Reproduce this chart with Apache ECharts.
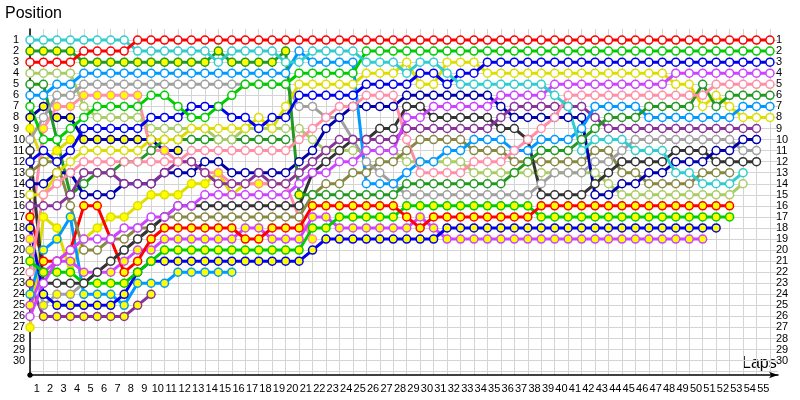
<!DOCTYPE html>
<html>
<head>
<meta charset="utf-8">
<script src="https://cdn.jsdelivr.net/npm/echarts@6/dist/echarts.min.js"></script>
<style>
  html, body { margin: 0; background: #fff; }
  #chart { width: 800px; height: 400px; }
</style>
</head>
<body>
<div id="chart"></div>
<script>
// Lap labels on the x axis (column 0 = starting grid)
const lapLabels = ['1','2','3','4','5','6','7','8','9','10','11','12','13','14','15','16','17','18','19','20',
  '21','22','23','24','25','26','27','28','29','30','31','32','33','34','35','36','37','38','39','40',
  '41','42','43','44','45','46','47','48','49','50','51','52','53','54','55'];

// Position per lap, lap 0..55 (null = out of the race)
const redOpen = [3,3,3,3,2,2,2,2,1,1, 1,1,1,1,1,1,1,1,1,1, 1,1,1,1,1,1,1,1,1,1, 1,1,1,1,1,1,1,1,1,1, 1,1,1,1,1,1,1,1,1,1, 1,1,1,1,1,1];
const cyanOpen = [1,1,1,1,1,1,1,1,2,2, 2,2,2,2,3,2,2,2,2,3, 3,2,2,2,2,3,3,3,4,3, 3,4,5,5,5,5,5,5,5,6, 7,11,10,10,10,11,11,11,13,13, 14,14,14,13,null,null];
const dkGreenMain = [2,2,2,2,3,3,3,3,3,3, 3,3,3,3,2,3,3,3,3,2, 15,15,15,15,15,15,15,15,14,14, 14,14,14,14,14,14,13,12,11,11, 11,10,9,8,8,8,7,7,7,7, 5,7,6,6,6,6];
const greenOpen = [7,10,10,9,8,7,7,7,7,6, 6,7,8,8,7,6,5,5,5,5, 4,4,4,4,4,2,2,2,2,2, 2,2,2,2,2,2,2,2,2,2, 2,2,2,2,2,2,2,2,2,2, 2,2,2,2,2,2];
const blueOpen = [12,11,12,11,9,9,9,9,9,8, 8,8,7,7,7,8,8,9,8,8, 6,6,6,6,6,5,5,5,5,4, 4,5,4,4,3,3,3,3,3,3, 3,3,3,3,3,3,3,3,3,3, 3,3,3,3,3,3];
const violetOpen = [26,23,21,20,19,19,19,18,18,17, 17,16,16,15,15,15,15,15,15,15, 14,13,13,12,12,11,11,11,8,8, 7,7,7,7,7,6,6,6,6,5, 5,5,5,5,5,5,5,5,4,4, 4,4,4,4,4,4];
const pinkOpen = [22,15,14,13,12,12,12,12,12,12, 12,12,11,11,11,11,11,11,11,11, 10,9,8,7,7,6,6,6,10,13, 13,13,13,12,12,12,11,10,9,8, 6,6,6,6,6,6,6,6,6,6, 6,5,5,5,5,5];
const dkGreenOpen = [5,5,10,15,14,13,13,12,12,11, 10,10,10,10,10,10,10,10,10,10];
const skyOpen = [6,6,5,5,4,4,4,4,4,4, 4,4,4,4,4,4,4,4,4,4, 2,3,3,3,3,14,14,14,13,12, 12,11,11,10,10,10,11,11,10,10, 10,9,7,7,7,7,8,8,8,8, 8,8,8,7,7,7];
const yellowOpen = [15,15,13,12,11,11,11,11,11,10, 10,10,9,9,9,9,9,8,9,7, 5,5,5,5,5,4,4,4,3,5, 5,3,3,3,4,4,4,4,4,4, 4,4,4,4,4,4,4,4,5,5, 7,6,7,8,8,8];
const dkPurpleOpen = [16,16,16,15,13,13,13,14,14,14, 13,12,12,13,14,14,14,13,14,14, 13,12,11,10,10,10,10,10,9,9, 9,9,9,9,9,8,7,7,7,7, 7,7,8,9,9,9,9,9,9,9, 9,9,9,9,9,null];
const navyOpen = [14,14,13,13,15,15,15,14,14,14, 13,13,13,12,12,13,13,13,13,13, 12,11,9,8,7,7,7,7,6,6, 6,6,6,6,6,7,8,8,8,8, 8,8,15,15,14,14,13,13,12,12, 12,11,11,10,10,null];
const grayOpen = [10,8,6,6,5,5,5,5,5,5, 5,5,5,5,5,5,5,5,5,5, 7,7,8,8,10,12,13,14,15,15, 15,15,15,15,15,15,15,15,14,13, 13,13,12,12,11,10,10,10,10,10, 10,10,10,11,11,null];
const blackOpen = [11,23,23,23,23,22,21,20,19,18, 17,16,16,16,16,16,16,16,16,16, 16,13,12,11,10,10,9,9,7,7, 8,8,8,8,8,9,9,10,15,15, 15,15,14,13,12,12,12,12,11,11, 11,12,12,12,12,null];
const oliveOpen = [13,12,12,16,20,20,19,19,18,18, 17,17,17,17,17,17,17,17,17,17, 17,15,14,14,13,13,12,12,11,10, 10,10,10,11,11,11,12,12,12,12, 12,12,11,11,13,13,14,14,14,14, 13,13,13,null,null,null];
const ltGreenOpen = [4,4,4,4,7,8,8,8,8,9, 9,9,9,9,10,10,9,9,9,9, 9,10,11,11,11,11,11,11,12,12, 12,12,12,13,13,13,13,13,13,13, 13,13,13,14,15,15,15,15,15,15, 15,15,15,14,null,null];
const redYellow = [17,21,21,20,16,16,19,22,21,19, 18,18,18,18,18,18,19,19,18,18, 18,16,16,16,16,16,16,16,17,18, 17,17,17,17,17,17,17,17,16,16, 16,16,16,16,16,16,16,16,16,16, 16,16,16,null,null,null];
const greenYellow = [21,22,22,22,23,23,23,23,22,21, 20,20,20,20,20,20,20,20,20,20, 20,18,18,17,17,17,17,17,16,16, 16,16,16,16,16,16,16,16,17,17, 17,17,17,17,17,17,17,17,17,17, 17,17,17,null,null,null];
const blueYellow = [18,24,25,25,25,25,25,24,22,21, 21,21,21,21,21,21,21,21,21,21, 21,20,19,19,19,19,19,19,19,19, 19,18,18,18,18,18,18,18,18,18, 18,18,18,18,18,18,18,18,18,18, 18,18,null,null,null,null];
const violetYellow = [25,22,21,21,22,22,22,21,20,20, 19,19,19,19,19,19,18,18,19,19, 19,17,17,18,18,18,18,18,18,17, 18,19,19,19,19,19,19,19,19,19, 19,19,19,19,19,19,19,19,19,19, 19,null,null,null,null,null];
const pinkYellow = [19,9,7,7,6,6,6,6,6,11, 11,12,12,13,13,14,14,14,14,14, 17,19];
const skyYellow = [24,20,19,17,24,24,24,25,23,23, 23,22,22,22,22,22];
const dkPurpleYellow = [23,26,26,26,26,26,26,26,25,24];
const navyYellow = [8,7,8,8,10,10,10,10,10,10, 11,11];
const yellowYellowA = [9,12,11,10];
const yellowYellowB = [27,17,18,22,19,18,17,17,16,15, 15,15,14,14,13,15,14,14,14,14];
const grayYellow = [20,25,24,24,23,22,21,20,19,18];

// dkGreenMain runs with yellow markers up to this lap, open afterwards
const dkGreenYellowUntil = 20;

const WHITE = '#ffffff';
const YELLOW = '#ffff00';

const drivers = [
  { data: dkPurpleYellow, color: '#883399', fill: YELLOW },
  { data: grayYellow, color: '#a0a0a0', fill: YELLOW },
  { data: yellowYellowA, color: '#dddd00', fill: YELLOW },
  { data: yellowYellowB, color: '#dddd00', fill: YELLOW },
  { data: navyYellow, color: '#0000aa', fill: YELLOW },
  { data: skyYellow, color: '#0099ff', fill: YELLOW },
  { data: pinkYellow, color: '#ff8fa8', fill: YELLOW },
  { data: dkGreenOpen, color: '#229922', fill: WHITE },
  { data: violetYellow, color: '#cc44ff', fill: YELLOW },
  { data: blueYellow, color: '#0000ee', fill: YELLOW },
  { data: greenYellow, color: '#00cc00', fill: YELLOW },
  { data: redYellow, color: '#ff0000', fill: YELLOW },
  { data: ltGreenOpen, color: '#aacc66', fill: WHITE },
  { data: oliveOpen, color: '#888844', fill: WHITE },
  { data: blackOpen, color: '#333333', fill: WHITE },
  { data: grayOpen, color: '#a0a0a0', fill: WHITE },
  { data: navyOpen, color: '#0000aa', fill: WHITE },
  { data: dkPurpleOpen, color: '#883399', fill: WHITE },
  { data: yellowOpen, color: '#dddd00', fill: WHITE },
  { data: skyOpen, color: '#0099ff', fill: WHITE },
  { data: dkGreenMain, color: '#229922', fill: WHITE, yellowUntil: dkGreenYellowUntil },
  { data: pinkOpen, color: '#ff8fa8', fill: WHITE },
  { data: violetOpen, color: '#cc44ff', fill: WHITE },
  { data: blueOpen, color: '#0000ee', fill: WHITE },
  { data: greenOpen, color: '#00cc00', fill: WHITE },
  { data: cyanOpen, color: '#33cccc', fill: WHITE },
  { data: redOpen, color: '#ff0000', fill: WHITE }
];

const chart = echarts.init(document.getElementById('chart'));

const labelFont = { fontFamily: 'Liberation Sans', fontSize: 11, color: '#000' };

const series = drivers.map(d => ({
  type: 'line',
  xAxisIndex: 0,
  yAxisIndex: 0,
  data: d.data
    .map((p, lap) => {
      if (p == null) return null;
      const item = { value: [lap, p] };
      if (d.yellowUntil != null && lap <= d.yellowUntil) item.itemStyle = { color: YELLOW };
      return item;
    })
    .filter(item => item != null),
  symbol: 'circle',
  symbolSize: 8,
  showAllSymbol: true,
  lineStyle: { color: d.color, width: 3 },
  itemStyle: { color: d.fill, borderColor: d.color, borderWidth: 1.5 },
  emphasis: { disabled: true },
  animation: false
}));

chart.setOption({
  animation: false,
  graphic: [
    { type: 'text', left: 5, top: 6, style: { text: 'Position', font: '16px "Liberation Sans"', fill: '#000' } },
    { type: 'text', left: 742, top: 356, style: { text: 'Laps', font: '16px "Liberation Sans"', fill: '#000' } }
  ],
  grid: [
    { left: 30, right: 22, top: 29, bottom: 25 },
    { left: 30, right: 30, top: 29, bottom: 25 }
  ],
  xAxis: [
    {
      type: 'value', gridIndex: 0, min: 0, max: 55.6, interval: 1, position: 'bottom',
      axisLine: { show: true, onZero: false, symbol: ['circle', 'arrow'], symbolSize: [5, 9], lineStyle: { color: '#000', width: 1.5 } },
      axisTick: { show: false },
      axisLabel: { show: false },
      splitLine: { show: true, showMaxLine: false, lineStyle: { color: '#d4d4d4', width: 1 } }
    },
    {
      type: 'category', gridIndex: 1, data: lapLabels, boundaryGap: true, position: 'bottom',
      axisLine: { show: false, onZero: false }, axisTick: { show: false }, splitLine: { show: false },
      axisLabel: Object.assign({ interval: 0, margin: 8 }, labelFont)
    }
  ],
  yAxis: [
    {
      type: 'value', gridIndex: 0, inverse: true, min: 0, max: 31.3, interval: 1,
      axisLine: { show: true, onZero: false, symbol: ['circle', 'none'], symbolSize: [5, 5], lineStyle: { color: '#000', width: 1.5 } },
      axisTick: { show: false },
      axisLabel: Object.assign({
        margin: 17, align: 'left',
        formatter: v => (v >= 1 && v <= 30 ? String(v) : '')
      }, labelFont),
      splitLine: { show: true, showMinLine: false, showMaxLine: false, lineStyle: { color: '#d4d4d4', width: 1 } }
    },
    {
      type: 'value', gridIndex: 0, inverse: true, min: 0, max: 31.3, interval: 1, position: 'right',
      axisLine: { show: false }, axisTick: { show: false }, splitLine: { show: false },
      axisLabel: Object.assign({
        margin: -2, align: 'left',
        formatter: v => (v >= 1 && v <= 30 ? String(v) : '')
      }, labelFont)
    },
    { type: 'value', gridIndex: 1, show: false, min: 0, max: 1 }
  ],
  series: series
});
</script>
</body>
</html>
